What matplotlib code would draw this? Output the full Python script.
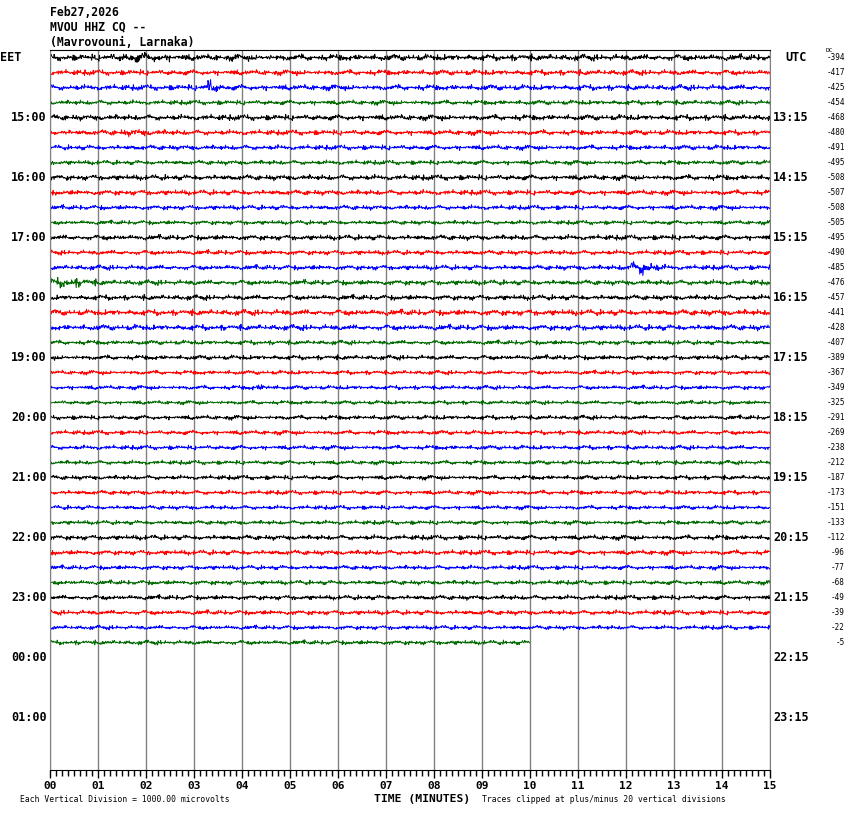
import numpy as np
import matplotlib
matplotlib.use('Agg')
import matplotlib.pyplot as plt
from matplotlib.transforms import blended_transform_factory

# header text
date_txt = 'Feb27,2026'
station_txt = 'MVOU HHZ CQ --'
place_txt = '(Mavrovouni, Larnaka)'

# one trace per 15 minutes, colours cycle black/red/blue/green
trace_colors = ['#000000', '#ff0000', '#0000ff', '#006a00']
dc_offsets = [-394, -417, -425, -454, -468, -480, -491, -495, -508, -507,
              -508, -505, -495, -490, -485, -476, -457, -441, -428, -407,
              -389, -367, -349, -325, -291, -269, -238, -212, -187, -173,
              -151, -133, -112, -96, -77, -68, -49, -39, -22, -5]
# rough half-height of each trace (in vertical divisions / row spacing)
trace_amp = [0.26, 0.22, 0.23, 0.19, 0.23, 0.21, 0.20, 0.18, 0.22, 0.21,
             0.19, 0.17, 0.21, 0.19, 0.20, 0.21, 0.21, 0.24, 0.23, 0.18,
             0.19, 0.17, 0.17, 0.16, 0.18, 0.18, 0.18, 0.17, 0.18, 0.18,
             0.17, 0.17, 0.20, 0.20, 0.18, 0.18, 0.19, 0.19, 0.17, 0.18]
last_minute = 10.0   # last trace stops here

# small bursts seen on the record
event_rows = [0, 2, 14, 15, 22, 5]
event_minutes = [1.9, 3.35, 12.35, 0.35, 4.4, 1.8]
event_gain = [1.6, 3.4, 3.2, 2.0, 1.7, 1.4]
event_width = [0.4, 0.08, 0.2, 0.35, 0.15, 0.3]

left_hours = ['EET', '15:00', '16:00', '17:00', '18:00', '19:00', '20:00',
              '21:00', '22:00', '23:00', '00:00', '01:00']
right_hours = ['UTC', '13:15', '14:15', '15:15', '16:15', '17:15', '18:15',
               '19:15', '20:15', '21:15', '22:15', '23:15']
minute_labels = ['%02d' % m for m in range(16)]

# hand typed wiggle shapes used to draw the background noise
wig_a = [0.31, -0.72, 0.15, 0.88, -0.43, -0.12, 0.64, -0.95, 0.27, 0.05, -0.58,
         0.79, -0.21, 0.46, -0.83, 0.12, 0.37, -0.29, 0.92, -0.66, 0.08, -0.41,
         0.55, -0.17, 0.71, -0.88, 0.23, 0.49, -0.62, -0.04, 0.83, -0.35, 0.19,
         -0.77, 0.58, -0.09, 0.41, -0.53, 0.97, -0.24, -0.69, 0.34, 0.06, -0.47,
         0.76, -0.14, 0.28, -0.91, 0.52, 0.11, -0.38, 0.67, -0.57, 0.21, -0.03,
         0.86, -0.79, 0.44, -0.26, 0.61, -0.70]
wig_b = [-0.45, 0.62, 0.10, -0.81, 0.37, -0.22, 0.93, -0.58, 0.04, 0.49, -0.73,
         0.26, -0.36, 0.81, -0.12, -0.64, 0.55, 0.18, -0.93, 0.41, -0.05, 0.69,
         -0.49, 0.32, -0.85, 0.14, 0.77, -0.28, -0.51, 0.59, -0.17, 0.88, -0.68,
         0.22, -0.02, 0.46, -0.39]

nrows = 48
nsamp = 1400

fig = plt.figure(figsize=(8.5, 8.14), dpi=100)
W, H = 850.0, 814.0
ax = fig.add_axes([50 / W, (H - 770) / H, 720 / W, 720 / H])

wa = np.array(wig_a)
wb = np.array(wig_b)
t = np.linspace(0, 15, nsamp)
idx = np.arange(nsamp)
for r in range(len(dc_offsets)):
    sig = 0.62 * wa[(idx * 7 + r * 13) % len(wa)] + 0.45 * wb[(idx * 5 + r * 11) % len(wb)]
    sig = np.sign(sig) * np.abs(sig) ** 1.4
    env = np.ones(nsamp)
    for er, em, eg, ew in zip(event_rows, event_minutes, event_gain, event_width):
        if er == r:
            env += (eg - 1) * np.exp(-0.5 * ((t - em) / ew) ** 2)
    y = r + trace_amp[r] * sig * env
    keep = t <= (last_minute if r == len(dc_offsets) - 1 else 15)
    ax.plot(t[keep], y[keep], color=trace_colors[r % 4], lw=0.7)

# minute grid
for m in range(0, 16):
    ax.axvline(m, color='#808080', lw=1.0, zorder=0)

ax.set_xlim(0, 15)
ax.set_ylim(nrows - 0.5, -0.5)
ax.set_yticks([])
ax.set_xticks(range(16))
ax.set_xticklabels(minute_labels, family='DejaVu Sans Mono', fontweight='bold', fontsize=8)
ax.set_xticks(np.arange(0, 15.01, 0.125), minor=True)
ax.tick_params(axis='x', which='major', length=6, width=1, direction='out', pad=2)
ax.tick_params(axis='x', which='minor', length=4.5, width=1, direction='out')
for s in ['left', 'right']:
    ax.spines[s].set_color('#808080')
ax.spines['top'].set_color('black')
ax.spines['bottom'].set_color('black')

mono = 'DejaVu Sans Mono'
yt = blended_transform_factory(ax.transAxes, ax.transData)
for i, lab in enumerate(left_hours):
    row = i * 4
    if i == 0:
        ax.text(-50 / 720, row, lab, transform=yt, ha='left', va='center',
                family=mono, fontweight='bold', fontsize=8.5)
    else:
        ax.text(-3 / 720, row, lab, transform=yt, ha='right', va='center',
                family=mono, fontweight='bold', fontsize=8.5)
for i, lab in enumerate(right_hours):
    row = i * 4
    xx = 15 / 720 if i == 0 else 3 / 720
    ax.text(1 + xx, row, lab, transform=yt, ha='left', va='center',
            family=mono, fontweight='bold', fontsize=8.5)
for r, dc in enumerate(dc_offsets):
    ax.text(1 + 75 / 720, r, str(dc), transform=yt, ha='right', va='center',
            family=mono, fontsize=5.5)
ax.text(1 + 56 / 720, -0.3, 'DC', transform=yt, ha='left', va='bottom',
        family=mono, fontsize=4.5)

fig.text(50 / W, 1 - 12 / H, date_txt, family=mono, fontweight='bold', fontsize=8.3, va='center')
fig.text(50 / W, 1 - 27 / H, station_txt, family=mono, fontweight='bold', fontsize=8.3, va='center')
fig.text(50 / W, 1 - 42 / H, place_txt, family=mono, fontweight='bold', fontsize=8.3, va='center')

fig.text(20 / W, 1 - 800 / H, 'Each Vertical Division = 1000.00 microvolts',
         family=mono, fontsize=5.8, va='center')
fig.text(374 / W, 1 - 799 / H, 'TIME (MINUTES)', family=mono, fontweight='bold',
         fontsize=8.2, va='center')
fig.text(482 / W, 1 - 800 / H, 'Traces clipped at plus/minus 20 vertical divisions',
         family=mono, fontsize=5.8, va='center')

fig.savefig('out.png', dpi=100)
